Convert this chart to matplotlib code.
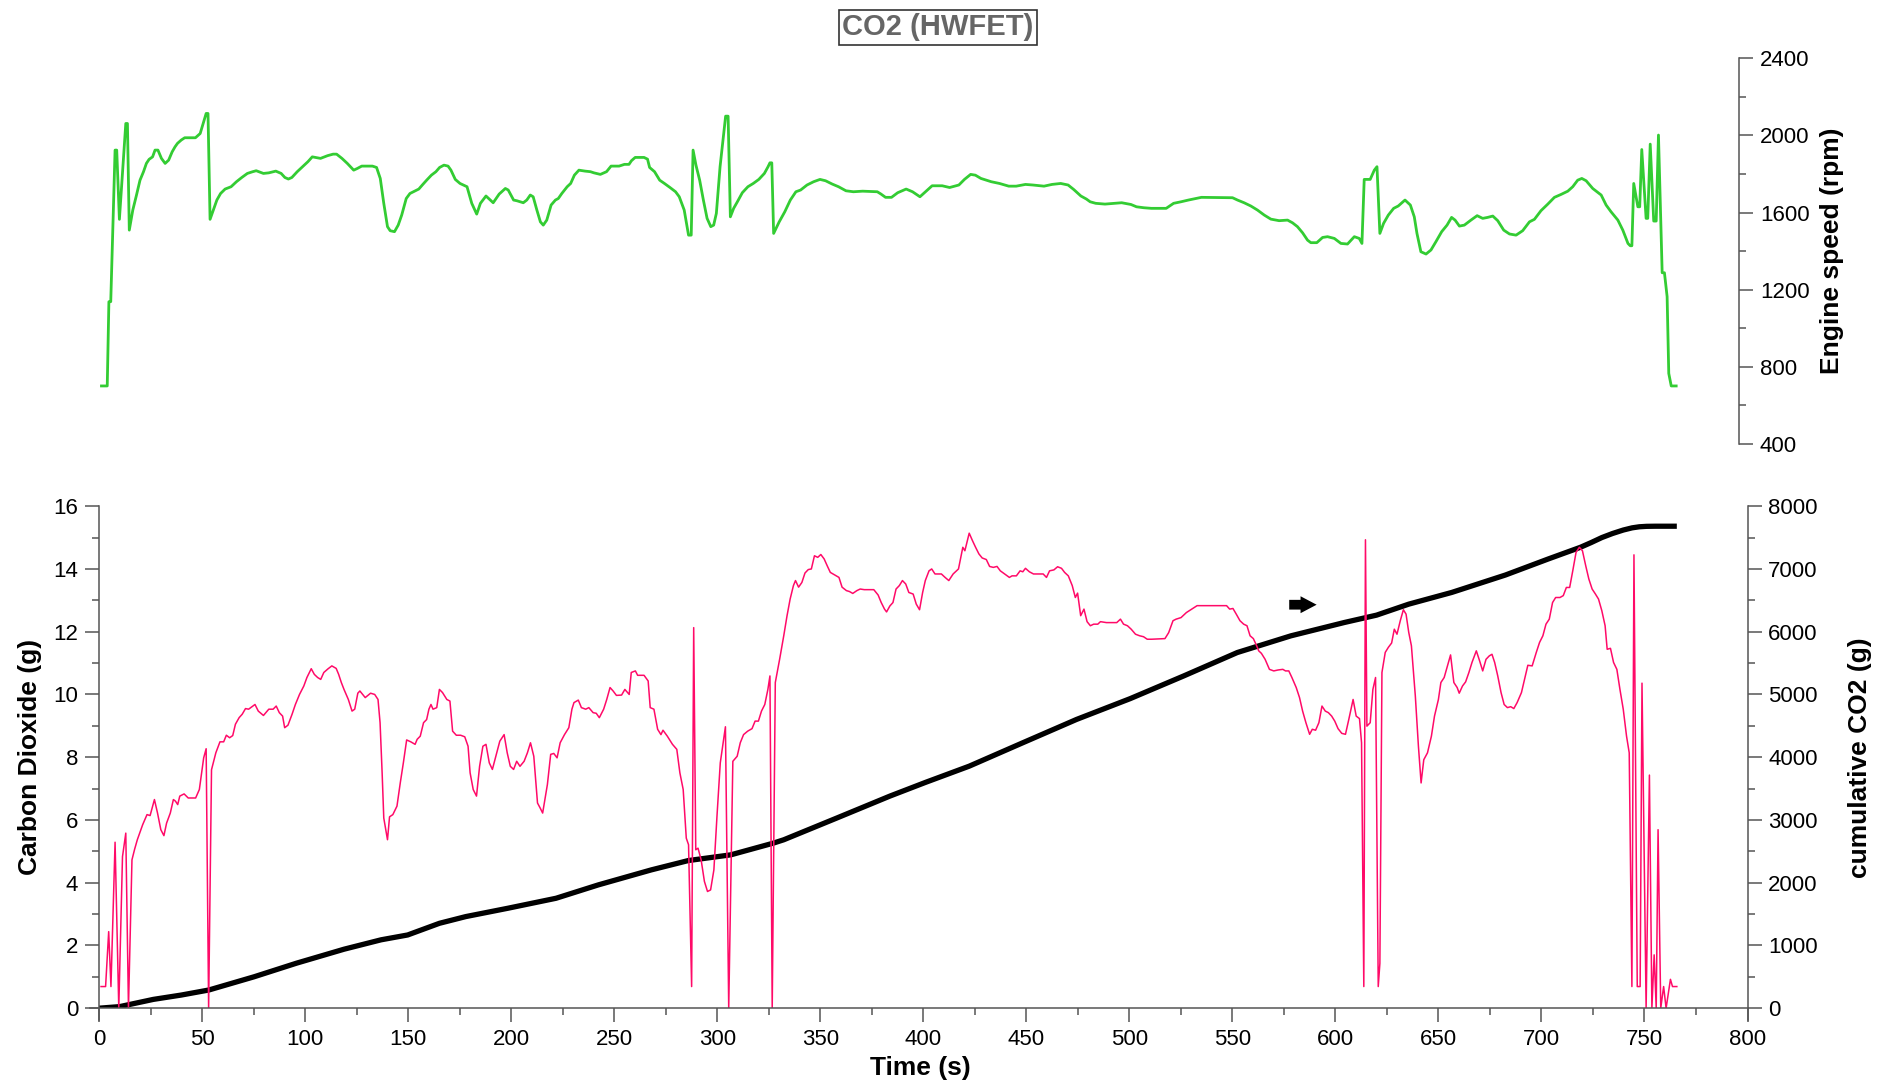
import numpy as np
import matplotlib
matplotlib.use('Agg')
from matplotlib import pyplot as plt
from matplotlib.ticker import MultipleLocator

plt.rcParams['font.family'] = ['Liberation Sans', 'DejaVu Sans']

# engine speed (rpm) over the HWFET cycle
speed_time = [1.2, 4.0, 4.8, 5.7, 7.8, 8.6, 9.9, 13.0, 13.8, 14.7,
              16.4, 18.2, 19.9, 21.6, 23.0, 24.3, 26.0, 27.2, 28.6, 30.3,
              32.1, 33.8, 35.5, 36.9, 38.1, 39.9, 41.6, 46.8, 49.1, 50.8,
              52.0, 52.9, 53.9, 55.5, 57.2, 59.0, 61.2, 64.1, 66.7, 69.3,
              72.0, 74.6, 76.3, 79.8, 82.4, 85.8, 88.4, 90.2, 91.9, 93.6,
              96.2, 98.8, 101.4, 103.5, 107.5, 110.9, 113.6, 115.3, 117.9, 120.5,
              123.6, 125.4, 127.5, 132.7, 134.7, 136.5, 138.2, 140.0, 141.3, 143.4,
              145.2, 146.9, 149.1, 150.9, 153.5, 155.2, 156.9, 159.0, 161.3, 163.5,
              165.3, 167.4, 169.4, 170.8, 172.9, 175.2, 178.6, 180.9, 183.3, 185.1,
              187.8, 191.3, 194.2, 197.2, 198.6, 201.2, 202.9, 205.9, 207.6, 209.3,
              210.7, 212.5, 214.2, 215.6, 217.3, 219.4, 221.5, 222.9, 224.6, 227.2,
              228.9, 230.7, 232.9, 235.9, 238.5, 240.2, 243.3, 246.3, 248.5, 252.4,
              255.0, 257.2, 258.4, 260.2, 264.5, 266.2, 267.2, 269.6, 272.1, 274.4,
              277.1, 279.8, 281.6, 284.0, 286.1, 287.4, 288.3, 289.7, 291.5, 293.3,
              295.1, 296.9, 298.3, 299.6, 301.4, 303.2, 304.1, 305.3, 306.4, 308.0,
              309.8, 312.2, 314.9, 317.5, 320.2, 322.9, 324.7, 325.6, 326.5, 327.4,
              330.1, 332.8, 335.5, 338.2, 340.5, 343.6, 346.8, 349.9, 352.6, 355.8,
              358.9, 362.5, 366.1, 370.6, 377.7, 379.5, 381.7, 384.6, 387.6, 391.7,
              394.8, 398.4, 401.1, 404.3, 409.2, 412.8, 417.3, 420.0, 423.0, 425.3,
              428.0, 433.0, 437.0, 441.5, 445.1, 449.6, 453.2, 458.6, 462.5, 466.7,
              470.3, 473.0, 476.5, 479.2, 481.0, 483.7, 488.2, 496.3, 500.8, 503.5,
              507.1, 510.7, 517.9, 521.5, 525.1, 528.7, 532.2, 535.0, 550.1, 552.5,
              555.7, 559.0, 562.2, 565.5, 568.7, 572.7, 576.8, 579.2, 581.6, 584.1,
              586.5, 588.1, 591.0, 593.8, 596.2, 599.5, 602.7, 605.9, 609.2, 611.6,
              612.9, 614.0, 616.9, 618.9, 620.2, 621.6, 623.4, 625.7, 628.3, 630.5,
              633.8, 636.4, 638.3, 639.6, 641.5, 644.0, 646.4, 648.8, 651.6, 654.2,
              656.4, 658.1, 660.2, 662.6, 665.8, 668.8, 671.5, 673.9, 676.4, 678.8,
              681.7, 684.5, 687.7, 690.9, 694.2, 696.6, 699.8, 703.1, 706.3, 709.5,
              712.8, 715.2, 717.6, 719.6, 721.7, 724.9, 729.0, 731.4, 733.8, 737.1,
              739.5, 742.0, 743.1, 743.9, 744.8, 746.8, 747.7, 748.7, 750.8, 751.6,
              752.8, 754.5, 755.7, 756.8, 758.6, 759.7, 761.0, 761.8, 763.0, 765.4]
speed_rpm = [701, 701, 1138, 1138, 1924, 1924, 1565, 2062, 2062, 1509,
             1613, 1691, 1768, 1812, 1855, 1876, 1889, 1924, 1924, 1881,
             1855, 1872, 1915, 1941, 1959, 1976, 1988, 1988, 2010, 2071,
             2114, 2114, 1565, 1613, 1665, 1699, 1722, 1734, 1760, 1782,
             1803, 1812, 1817, 1803, 1806, 1815, 1803, 1782, 1774, 1782,
             1812, 1838, 1864, 1889, 1881, 1895, 1903, 1903, 1881, 1855,
             1820, 1829, 1841, 1841, 1834, 1777, 1648, 1527, 1506, 1501,
             1535, 1587, 1673, 1699, 1713, 1722, 1743, 1768, 1794, 1812,
             1834, 1846, 1841, 1820, 1772, 1751, 1734, 1648, 1592, 1648,
             1686, 1651, 1696, 1725, 1717, 1665, 1661, 1651, 1665, 1691,
             1682, 1613, 1552, 1535, 1561, 1639, 1665, 1673, 1699, 1734,
             1751, 1794, 1820, 1815, 1812, 1806, 1798, 1812, 1841, 1841,
             1850, 1850, 1869, 1886, 1886, 1877, 1834, 1812, 1768, 1751,
             1730, 1708, 1682, 1613, 1483, 1483, 1924, 1846, 1768, 1665,
             1570, 1527, 1535, 1596, 1838, 2010, 2100, 2100, 1578, 1622,
             1656, 1703, 1734, 1751, 1772, 1803, 1838, 1858, 1858, 1492,
             1552, 1604, 1665, 1708, 1717, 1743, 1760, 1772, 1765, 1748,
             1734, 1713, 1708, 1711, 1708, 1696, 1679, 1679, 1703, 1722,
             1708, 1682, 1708, 1739, 1739, 1730, 1743, 1772, 1798, 1794,
             1777, 1760, 1751, 1737, 1737, 1746, 1743, 1737, 1746, 1751,
             1743, 1720, 1686, 1670, 1656, 1648, 1644, 1651, 1642, 1630,
             1625, 1622, 1622, 1648, 1656, 1665, 1673, 1679, 1677, 1665,
             1651, 1634, 1613, 1587, 1566, 1558, 1561, 1547, 1527, 1495,
             1457, 1444, 1444, 1471, 1475, 1466, 1440, 1437, 1475, 1466,
             1440, 1772, 1772, 1820, 1838, 1492, 1544, 1587, 1622, 1634,
             1665, 1639, 1578, 1492, 1397, 1385, 1406, 1449, 1501, 1535,
             1575, 1561, 1530, 1535, 1561, 1584, 1570, 1575, 1582, 1558,
             1509, 1489, 1483, 1506, 1552, 1565, 1610, 1644, 1679, 1694,
             1711, 1734, 1768, 1777, 1765, 1725, 1691, 1639, 1604, 1561,
             1509, 1440, 1428, 1428, 1751, 1630, 1630, 1927, 1570, 1570,
             1955, 1556, 1556, 2002, 1288, 1288, 1164, 766, 701, 701]

# CO2 emitted per second (g)
co2_time = [1.0, 3.2, 4.7, 5.8, 7.8, 9.6, 11.4, 13.0, 14.3, 16.0,
            17.3, 18.6, 21.2, 23.3, 24.8, 26.9, 28.4, 30.0, 31.5, 32.8,
            34.6, 36.1, 37.1, 38.2, 39.2, 41.3, 43.3, 46.9, 48.7, 50.8,
            52.0, 53.2, 54.6, 56.7, 58.7, 60.5, 61.8, 63.4, 64.9, 66.2,
            68.0, 69.5, 71.1, 72.6, 75.7, 77.3, 79.8, 82.4, 84.5, 86.0,
            87.5, 89.1, 90.1, 91.7, 93.7, 95.3, 97.3, 99.4, 100.9, 103.0,
            104.5, 106.1, 107.6, 109.1, 111.2, 113.0, 115.1, 116.3, 117.6, 118.9,
            121.0, 122.8, 124.1, 125.6, 126.6, 129.2, 131.8, 133.8, 135.4, 136.4,
            137.4, 138.2, 140.0, 141.0, 142.6, 144.6, 146.2, 147.7, 149.3, 151.3,
            153.4, 154.4, 155.9, 157.5, 159.0, 160.1, 161.1, 162.1, 163.9, 165.2,
            166.7, 168.8, 170.3, 171.6, 173.4, 175.5, 177.5, 179.1, 180.1, 181.6,
            183.2, 184.7, 186.3, 187.8, 189.4, 190.9, 193.0, 194.5, 196.6, 198.1,
            199.6, 201.2, 202.7, 204.3, 206.3, 207.9, 209.4, 211.0, 212.8, 214.1,
            215.3, 216.1, 217.6, 219.2, 220.7, 222.3, 223.8, 225.9, 228.0, 229.5,
            230.5, 232.6, 234.1, 236.2, 237.7, 239.8, 241.3, 242.8, 244.9, 246.4,
            248.0, 249.5, 251.1, 253.6, 255.2, 257.3, 258.3, 260.3, 261.4, 264.5,
            266.5, 267.5, 269.3, 271.1, 272.7, 273.7, 275.8, 278.3, 280.4, 281.9,
            283.5, 285.0, 286.1, 287.6, 288.6, 289.6, 290.7, 292.2, 293.8, 295.3,
            296.8, 298.4, 299.9, 301.5, 304.0, 305.6, 307.6, 309.7, 311.2, 312.8,
            314.8, 316.9, 318.4, 320.0, 321.5, 323.1, 324.6, 325.6, 326.7, 328.2,
            330.3, 332.3, 333.9, 335.4, 337.0, 338.0, 339.5, 341.1, 342.6, 344.2,
            345.7, 347.2, 348.8, 350.3, 351.9, 353.4, 354.9, 357.0, 359.1, 360.6,
            362.7, 364.2, 365.8, 367.8, 369.4, 371.4, 376.0, 378.1, 379.6, 381.2,
            382.2, 383.8, 385.3, 386.8, 388.4, 389.9, 391.5, 393.0, 395.1, 396.6,
            398.2, 399.7, 401.0, 402.8, 404.1, 405.7, 408.8, 410.6, 412.4, 414.5,
            417.1, 419.2, 420.2, 422.3, 423.9, 425.4, 427.0, 428.6, 430.6, 432.2,
            434.0, 435.8, 437.4, 439.5, 441.8, 443.1, 445.2, 447.0, 448.3, 449.6,
            451.5, 453.5, 458.2, 459.8, 461.3, 463.4, 465.2, 467.1, 468.6, 470.4,
            472.3, 473.8, 474.9, 476.4, 478.0, 479.5, 481.1, 482.7, 484.7, 486.0,
            488.9, 493.9, 495.7, 497.2, 499.1, 500.9, 503.0, 505.0, 506.9, 508.7,
            510.8, 517.3, 519.1, 521.2, 522.7, 525.1, 527.7, 530.3, 532.9, 547.2,
            548.7, 550.3, 551.9, 553.7, 555.5, 557.1, 558.6, 560.2, 561.8, 562.8,
            564.1, 565.9, 568.0, 570.1, 572.2, 574.5, 575.8, 577.4, 578.9, 581.0,
            582.6, 584.1, 585.7, 587.5, 588.8, 590.4, 592.0, 593.5, 595.1, 596.6,
            598.2, 599.7, 601.3, 603.1, 604.9, 606.5, 608.6, 610.1, 611.7, 612.7,
            613.8, 614.6, 615.3, 616.9, 618.2, 619.5, 620.8, 621.6, 622.6, 624.2,
            625.7, 627.3, 628.6, 629.9, 631.5, 633.0, 634.3, 635.6, 636.9, 638.8,
            640.3, 641.6, 642.9, 644.7, 646.6, 648.1, 650.0, 651.2, 652.8, 654.4,
            655.9, 657.5, 659.1, 660.1, 661.7, 663.2, 664.8, 666.3, 668.4, 670.0,
            671.5, 673.1, 674.7, 676.0, 677.3, 678.8, 680.4, 681.9, 683.5, 685.1,
            686.6, 688.2, 690.3, 691.8, 693.4, 695.5, 697.5, 699.1, 700.7, 702.2,
            703.8, 705.4, 706.9, 709.0, 710.6, 712.1, 713.7, 715.2, 716.8, 718.4,
            719.9, 721.5, 723.0, 724.6, 726.2, 727.7, 729.3, 730.9, 731.9, 733.5,
            735.0, 736.6, 738.1, 739.7, 741.3, 742.6, 743.9, 744.9, 746.5, 747.9,
            748.8, 750.8, 752.4, 753.6, 754.7, 755.7, 756.6, 757.9, 759.3, 760.5,
            762.6, 763.6, 765.7]
co2_rate = [0.69, 0.69, 2.44, 0.69, 5.29, 0.0, 4.83, 5.58, 0.0, 4.73,
            5.07, 5.37, 5.85, 6.17, 6.14, 6.65, 6.22, 5.69, 5.5, 5.9,
            6.22, 6.65, 6.6, 6.49, 6.76, 6.83, 6.7, 6.7, 6.97, 7.98,
            8.27, 0.0, 7.6, 8.14, 8.49, 8.49, 8.7, 8.62, 8.69, 9.05,
            9.26, 9.37, 9.55, 9.53, 9.68, 9.47, 9.33, 9.53, 9.53, 9.63,
            9.42, 9.31, 8.94, 9.02, 9.37, 9.68, 10.0, 10.27, 10.54, 10.82,
            10.64, 10.54, 10.48, 10.7, 10.82, 10.91, 10.83, 10.64, 10.38, 10.16,
            9.84, 9.47, 9.53, 10.04, 10.11, 9.9, 10.04, 10.0, 9.84, 9.1,
            7.5, 6.06, 5.37, 6.1, 6.17, 6.44, 7.18, 7.82, 8.55, 8.49,
            8.41, 8.57, 8.67, 9.1, 9.2, 9.53, 9.68, 9.53, 9.58, 10.16,
            10.06, 9.84, 9.79, 8.83, 8.7, 8.7, 8.65, 8.35, 7.5, 6.97,
            6.76, 7.71, 8.35, 8.41, 7.82, 7.61, 8.14, 8.51, 8.72, 8.14,
            7.71, 7.61, 7.87, 7.71, 7.87, 8.14, 8.46, 8.03, 6.54, 6.38,
            6.22, 6.54, 7.13, 8.09, 8.12, 7.98, 8.46, 8.72, 8.94, 9.53,
            9.74, 9.82, 9.58, 9.53, 9.58, 9.42, 9.4, 9.26, 9.53, 9.84,
            10.22, 10.11, 9.97, 9.98, 10.16, 10.0, 10.7, 10.75, 10.61, 10.61,
            10.43, 9.58, 9.53, 8.89, 8.72, 8.86, 8.67, 8.41, 8.25, 7.5,
            6.97, 5.42, 5.21, 0.69, 12.13, 5.05, 5.1, 4.73, 4.04, 3.72,
            3.77, 4.41, 6.12, 7.82, 8.97, 0.0, 7.87, 8.03, 8.46, 8.72,
            8.83, 8.91, 9.15, 9.15, 9.47, 9.68, 10.16, 10.59, 0.0, 10.38,
            11.12, 11.87, 12.51, 13.04, 13.47, 13.63, 13.42, 13.57, 13.87, 13.98,
            14.0, 14.42, 14.37, 14.46, 14.32, 14.1, 13.89, 13.81, 13.73, 13.42,
            13.31, 13.28, 13.22, 13.31, 13.36, 13.34, 13.34, 13.17, 12.93, 12.72,
            12.63, 12.82, 12.93, 13.36, 13.47, 13.63, 13.52, 13.25, 13.2, 12.88,
            12.7, 13.25, 13.63, 13.94, 14.0, 13.84, 13.84, 13.73, 13.63, 13.84,
            14.0, 14.69, 14.58, 15.14, 14.9, 14.69, 14.48, 14.35, 14.3, 14.08,
            14.05, 14.08, 13.94, 13.84, 13.73, 13.78, 13.78, 13.94, 13.91, 14.02,
            13.91, 13.84, 13.84, 13.73, 13.94, 13.97, 14.07, 14.02, 13.89, 13.78,
            13.47, 13.09, 13.23, 12.51, 12.72, 12.32, 12.19, 12.24, 12.24, 12.32,
            12.29, 12.29, 12.4, 12.24, 12.19, 12.08, 11.92, 11.87, 11.84, 11.76,
            11.76, 11.78, 11.97, 12.35, 12.4, 12.45, 12.61, 12.72, 12.83, 12.83,
            12.72, 12.74, 12.56, 12.35, 12.24, 12.19, 11.87, 11.78, 11.55, 11.39,
            11.31, 11.12, 10.8, 10.75, 10.78, 10.8, 10.75, 10.75, 10.54, 10.22,
            9.9, 9.47, 9.1, 8.73, 8.89, 8.86, 9.1, 9.63, 9.47, 9.42,
            9.31, 9.15, 8.91, 8.76, 8.73, 9.2, 9.84, 9.31, 9.23, 8.46,
            0.69, 14.93, 8.99, 9.1, 10.16, 10.54, 0.69, 1.43, 10.7, 11.34,
            11.5, 11.64, 12.08, 11.92, 12.35, 12.7, 12.56, 11.98, 11.55, 9.95,
            8.35, 7.18, 7.92, 8.14, 8.67, 9.31, 9.84, 10.38, 10.54, 10.91,
            11.26, 10.38, 10.22, 10.04, 10.27, 10.4, 10.7, 11.02, 11.39, 11.07,
            10.75, 11.12, 11.23, 11.28, 11.02, 10.59, 10.06, 9.68, 9.58, 9.61,
            9.55, 9.74, 10.06, 10.48, 10.93, 10.91, 11.34, 11.66, 11.87, 12.24,
            12.4, 12.93, 13.09, 13.09, 13.15, 13.41, 13.41, 13.94, 14.53, 14.69,
            14.58, 14.1, 13.68, 13.36, 13.2, 13.04, 12.67, 12.19, 11.44, 11.47,
            11.02, 10.8, 10.16, 9.53, 8.67, 8.14, 0.69, 14.45, 0.69, 0.69,
            10.36, 0.0, 7.43, 0.0, 1.7, 0.0, 5.69, 0.0, 0.69, 0.0,
            0.92, 0.69, 0.69]

# running total of CO2 (g)
cum_time = [0, 10, 26.3, 40, 53.3, 75.2, 95.8, 118.9, 136.9,
            149.8, 165.2, 178, 198.6, 221.8, 242.3, 268, 286, 306.6, 327.2,
            332.3, 358, 383.8, 401.2, 422.3, 448.3, 474.4, 500.4, 526.4, 552.4,
            578.4, 604.4, 620, 635.6, 656.5, 682.5, 703.3, 718.9, 724.1, 729.3,
            734.5, 739.7, 744, 747.5, 751, 755.3, 765.7]
cum_co2 = [0, 25, 140, 210, 290, 500, 717, 940, 1090,
           1167, 1353, 1460, 1594, 1752, 1965, 2204, 2353, 2444, 2630,
           2684, 3030, 3380, 3600, 3857, 4230, 4602, 4933, 5295, 5668,
           5934, 6147, 6264, 6439, 6626, 6903, 7159, 7345, 7420, 7500,
           7565, 7620, 7655, 7672, 7679, 7681, 7681]

W, H = 1888, 1085
spine_col = '#555555'


def style_axis(axis, which):
    axis.tick_params(axis=which, which='major', direction='out', length=10, width=1.1,
                     color=spine_col, labelsize=16, pad=5)
    axis.tick_params(axis=which, which='minor', direction='out', length=5, width=1.1,
                     color=spine_col)


fig = plt.figure(figsize=(W / 100, H / 100), dpi=100)

# top panel: engine speed
ax_rpm = fig.add_axes([99 / W, 1 - 444 / H, 1640 / W, 385.7 / H])
ax_rpm.plot(speed_time, speed_rpm, color='#33cc33', lw=2.0)
ax_rpm.set_xlim(0, 1640 / 2.0606)
ax_rpm.set_ylim(400, 2400)
for s in ['left', 'top', 'bottom']:
    ax_rpm.spines[s].set_visible(False)
ax_rpm.spines['right'].set_color(spine_col)
ax_rpm.spines['right'].set_linewidth(1.1)
ax_rpm.xaxis.set_visible(False)
ax_rpm.yaxis.tick_right()
ax_rpm.yaxis.set_major_locator(MultipleLocator(400))
ax_rpm.yaxis.set_minor_locator(MultipleLocator(200))
style_axis(ax_rpm, 'y')
ax_rpm.set_ylabel('Engine speed (rpm)', fontsize=19, fontweight='bold')
ax_rpm.yaxis.set_label_position('right')
ax_rpm.yaxis.set_label_coords((1831.7 - 99) / 1640, 0.5)
ax_rpm.yaxis.label.set_verticalalignment('center')

# bottom panel: CO2 per second and cumulative CO2
ax = fig.add_axes([99 / W, 1 - 1008.2 / H, 1648.5 / W, 502 / H])
ax_cum = ax.twinx()
ax.set_zorder(ax_cum.get_zorder() + 1)
ax.patch.set_visible(False)

ax.plot(co2_time, co2_rate, color='#ff0a68', lw=1.1)
ax_cum.plot(cum_time, cum_co2, color='black', lw=3.8, solid_capstyle='butt',
            solid_joinstyle='round')

ax.arrow(577.6, 12.86, 13.3, 0, width=0.31, head_width=0.54, head_length=7.8,
         length_includes_head=True, color='black', lw=0)

ax.set_xlim(0, 800)
ax.set_ylim(0, 16)
ax_cum.set_ylim(0, 8000)

ax.spines['top'].set_visible(False)
ax_cum.spines['top'].set_visible(False)
ax_cum.spines['left'].set_visible(False)
ax_cum.spines['bottom'].set_visible(False)
ax.spines['right'].set_visible(False)
for sp in [ax.spines['left'], ax.spines['bottom'], ax_cum.spines['right']]:
    sp.set_color(spine_col)
    sp.set_linewidth(1.1)
ax.spines['left'].set_bounds(-0.38, 16)
ax.spines['bottom'].set_bounds(-4.4, 800)
ax_cum.spines['right'].set_bounds(-190, 8000)

ax.xaxis.set_major_locator(MultipleLocator(50))
ax.xaxis.set_minor_locator(MultipleLocator(25))
ax.yaxis.set_major_locator(MultipleLocator(2))
ax.yaxis.set_minor_locator(MultipleLocator(1))
ax_cum.yaxis.set_major_locator(MultipleLocator(1000))
ax_cum.yaxis.set_minor_locator(MultipleLocator(500))
style_axis(ax, 'x')
style_axis(ax, 'y')
style_axis(ax_cum, 'y')

ax.set_xlabel('Time (s)', fontsize=19, fontweight='bold')
ax.xaxis.set_label_coords((920 - 99) / 1648.5, (1008.2 - 1068) / 502)
ax.xaxis.label.set_verticalalignment('center')
ax.set_ylabel('Carbon Dioxide (g)', fontsize=19, fontweight='bold')
ax.yaxis.set_label_coords((30 - 99) / 1648.5, 0.5)
ax.yaxis.label.set_verticalalignment('center')
ax_cum.set_ylabel('cumulative CO2 (g)', fontsize=19, fontweight='bold')
ax_cum.yaxis.set_label_coords((1860 - 99) / 1648.5, 0.5)
ax_cum.yaxis.label.set_verticalalignment('center')

fig.text(938 / W, 1 - 27.3 / H, 'CO2 (HWFET)', ha='center', va='center',
         fontsize=21, fontweight='bold', color='#666666',
         bbox=dict(boxstyle='square,pad=0.12', facecolor='white',
                   edgecolor='#333333', linewidth=1.2))

fig.savefig('out.png', dpi=100)
